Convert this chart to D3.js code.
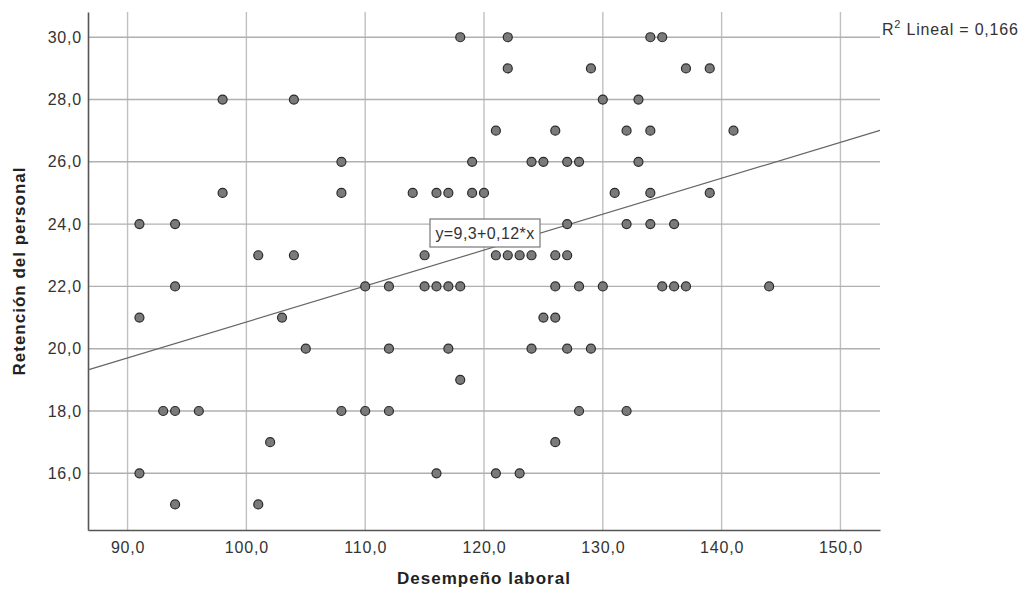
<!DOCTYPE html>
<html>
<head>
<meta charset="utf-8">
<script src="https://cdn.jsdelivr.net/npm/d3@7"></script>
<style>
  body { margin: 0; background: #fff; }
  svg { display: block; font-family: "Liberation Sans", Arial, sans-serif; }
</style>
</head>
<body>
<div id="chart"></div>
<script>
// data
const desempeno = [
    118, 122, 134, 135,
    122, 129, 137, 139,
    98, 104, 130, 133,
    121, 126, 132, 134, 141,
    108, 119, 124, 125, 127, 128, 133,
    98, 108, 114, 116, 117, 119, 120, 131, 134, 139,
    91, 94, 127, 132, 134, 136,
    101, 104, 115, 121, 122, 123, 124, 126, 127,
    94, 110, 112, 115, 116, 117, 118, 126, 128, 130, 135, 136, 137, 144,
    91, 103, 125, 126,
    105, 112, 117, 124, 127, 129,
    118,
    93, 94, 96, 108, 110, 112, 128, 132,
    102, 126,
    91, 116, 121, 123,
    94, 101
];
const retencion = [
    30, 30, 30, 30,
    29, 29, 29, 29,
    28, 28, 28, 28,
    27, 27, 27, 27, 27,
    26, 26, 26, 26, 26, 26, 26,
    25, 25, 25, 25, 25, 25, 25, 25, 25, 25,
    24, 24, 24, 24, 24, 24,
    23, 23, 23, 23, 23, 23, 23, 23, 23,
    22, 22, 22, 22, 22, 22, 22, 22, 22, 22, 22, 22, 22, 22,
    21, 21, 21, 21,
    20, 20, 20, 20, 20, 20,
    19,
    18, 18, 18, 18, 18, 18, 18, 18,
    17, 17,
    16, 16, 16, 16,
    15, 15
];
const xTicks = [90, 100, 110, 120, 130, 140, 150];
const yTicks = [16, 18, 20, 22, 24, 26, 28, 30];
const fitCoef = [9.33, 0.1153]; // intercept, slope of drawn line
const fitLabel = "y=9,3+0,12*x";
const r2Label = "0,166";

const width = 1027, height = 596;
const plot = { left: 88, right: 880, top: 12, bottom: 530 };

const svg = d3.select("#chart").append("svg")
    .attr("width", width)
    .attr("height", height);

const x = d3.scaleLinear().domain([86.67, 153.33]).range([plot.left, plot.right]);
const y = d3.scaleLinear().domain([14.18, 30.81]).range([plot.bottom, plot.top]);

const fmt = d3.formatLocale({ decimal: ",", thousands: ".", grouping: [3], currency: ["", ""] }).format(".1f");

// grid
svg.append("g").selectAll("line").data(xTicks).enter().append("line")
    .attr("x1", d => x(d)).attr("x2", d => x(d))
    .attr("y1", plot.top).attr("y2", plot.bottom)
    .attr("stroke", "#c0c0c0").attr("stroke-width", 1.4);
svg.append("g").selectAll("line").data(yTicks).enter().append("line")
    .attr("x1", plot.left).attr("x2", plot.right)
    .attr("y1", d => y(d)).attr("y2", d => y(d))
    .attr("stroke", "#b0b0b0").attr("stroke-width", 1.4);

// axes
const xAxis = svg.append("g")
    .attr("transform", `translate(0,${plot.bottom})`)
    .call(d3.axisBottom(x).tickValues(xTicks).tickFormat(fmt).tickSize(0).tickPadding(12));
const yAxis = svg.append("g")
    .attr("transform", `translate(${plot.left},0)`)
    .call(d3.axisLeft(y).tickValues(yTicks).tickFormat(fmt).tickSize(0).tickPadding(6));
[xAxis, yAxis].forEach(a => {
    a.select(".domain").attr("stroke", "#555").attr("stroke-width", 1.6);
    a.selectAll("text").attr("font-size", 16).attr("fill", "#333")
        .attr("letter-spacing", 0.8)
        .attr("font-family", "\"Liberation Sans\", Arial, sans-serif");
});

// fit line
const line = d3.line().x(d => x(d)).y(d => y(fitCoef[0] + fitCoef[1] * d));
svg.append("path")
    .datum(x.domain())
    .attr("d", line)
    .attr("fill", "none")
    .attr("stroke", "#666")
    .attr("stroke-width", 1.2);

// points
svg.append("g").selectAll("circle")
    .data(desempeno.map((d, i) => [d, retencion[i]]))
    .enter().append("circle")
    .attr("cx", d => x(d[0]))
    .attr("cy", d => y(d[1]))
    .attr("r", 4.5)
    .attr("fill", "#7a7a7a")
    .attr("stroke", "#2a2a2a")
    .attr("stroke-width", 1.2);

// equation label
const lab = svg.append("g").attr("transform", "translate(430,219)");
lab.append("rect").attr("width", 110).attr("height", 28)
    .attr("fill", "#fff").attr("stroke", "#777").attr("stroke-width", 1.2);
lab.append("text").attr("x", 55).attr("y", 20)
    .attr("text-anchor", "middle").attr("font-size", 16).attr("fill", "#333")
    .attr("letter-spacing", 0.4)
    .text(fitLabel);

// R2 label
const r2 = svg.append("text").attr("x", 882).attr("y", 35)
    .attr("font-size", 16).attr("fill", "#333").attr("letter-spacing", 0.8);
r2.append("tspan").text("R");
r2.append("tspan").attr("font-size", 11).attr("dy", -7).text("2");
r2.append("tspan").attr("dy", 7).text(" Lineal = " + r2Label);

// titles
svg.append("text")
    .attr("x", 484).attr("y", 584)
    .attr("text-anchor", "middle")
    .attr("font-size", 17).attr("font-weight", "bold").attr("fill", "#222")
    .attr("letter-spacing", 1)
    .text("Desempeño laboral");
svg.append("text")
    .attr("transform", "translate(25,271) rotate(-90)")
    .attr("text-anchor", "middle")
    .attr("font-size", 17).attr("font-weight", "bold").attr("fill", "#222")
    .attr("letter-spacing", 1)
    .text("Retención del personal");
</script>
</body>
</html>
